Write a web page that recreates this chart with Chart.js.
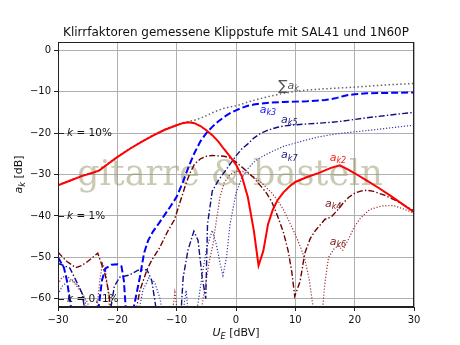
<!DOCTYPE html>
<html>
<head>
<meta charset="utf-8">
<script src="https://cdn.jsdelivr.net/npm/chart.js@4"></script>
<style>
  body { margin: 0; background: #fff; }
  #wrap { width: 460px; height: 345px; }
</style>
</head>
<body>
<div id="wrap"><canvas id="chart" width="460" height="345"></canvas></div>
<script>
// Klirrfaktoren a_k [dB] über Eingangspegel U_E [dBV], Paare [U_E, a_k]
const k2 = [[-30,-32.6],[-28,-31.5],[-26,-30.4],[-24,-29.5],[-23,-29],[-22,-27.9],[-20,-25.8],[-18,-23.9],[-16,-22.2],[-14,-20.6],[-12,-19.2],[-10,-18.1],[-9,-17.6],[-8,-17.4],[-7,-17.6],[-6,-18.3],[-5,-19.3],[-4,-20.5],[-3,-22],[-2,-23.9],[-1,-25.7],[0,-27.6],[1,-30.5],[2,-35.5],[3,-43.5],[3.8,-52],[4.6,-48.5],[5.4,-42],[6.2,-38.5],[7,-36.2],[8,-34.3],[9,-32.9],[10,-31.8],[12,-30.6],[14,-29.6],[16,-28.4],[17.5,-27.8],[19,-28.9],[20,-29.7],[22,-31.4],[24,-33.2],[26,-35.1],[28,-37.1],[30,-39.1]];
const k3 = [[-30,-50],[-29,-52.5],[-28.5,-55.6],[-27.6,-64],[-23.3,-64],[-22.6,-55.6],[-22,-52.7],[-21,-51.8],[-20,-51.7],[-19.3,-52.2],[-18.9,-55.6],[-18.5,-64],[-17.5,-64],[-16.2,-54.8],[-15.5,-49],[-14.8,-45.9],[-14,-43.8],[-13,-41.8],[-12,-39.7],[-11,-37.6],[-10,-35.4],[-9,-32],[-8,-28.2],[-7,-24.8],[-6,-22],[-5,-20],[-4,-18.5],[-3,-17.2],[-2,-16.1],[-1,-15.2],[0,-14.5],[1,-13.9],[2,-13.4],[3,-13.1],[4,-12.9],[6,-12.6],[8,-12.5],[10,-12.4],[12,-12.3],[14,-12.1],[15,-12],[16,-11.8],[17,-11.5],[18,-11.1],[19,-10.8],[20,-10.6],[22,-10.4],[25,-10.3],[30,-10.2]];
const k4 = [[-30,-48.8],[-28.5,-51],[-27,-52.5],[-26,-52],[-25,-51],[-23.3,-49],[-22.1,-53.9],[-21.5,-58],[-21,-64],[-17,-64],[-16.2,-58],[-15,-53],[-14.2,-50.7],[-13,-48],[-12.5,-46.6],[-11.5,-43.7],[-10.4,-41],[-9.5,-37],[-8.5,-32.5],[-7.8,-29.8],[-7,-27.5],[-6,-26.2],[-5,-25.6],[-4,-25.4],[-3,-25.5],[-2,-25.6],[-1,-26],[0,-27],[1,-28.2],[2,-29.5],[3,-30.8],[4,-32.5],[5,-34.2],[6,-36.5],[7,-40],[8,-44],[8.8,-48.5],[9.4,-53.5],[9.9,-59.4],[10.8,-55.8],[11.6,-49],[12.5,-45.5],[13.3,-43.7],[14,-42.5],[15,-40.8],[16,-40.3],[17,-38.8],[18,-37],[19,-35.5],[20,-34.5],[21,-34],[22,-33.8],[23,-34],[25,-35],[27,-36.3],[30,-38.8]];
const k5 = [[-30,-51.5],[-29,-52],[-28,-52.6],[-27,-55.5],[-26,-58.5],[-25.3,-64],[-21.3,-64],[-20.5,-57],[-19.6,-54.8],[-18,-54.3],[-16.5,-53.1],[-15,-53],[-14.2,-55.6],[-13.3,-64],[-9.3,-64],[-8.9,-54.8],[-8.1,-48.3],[-7.1,-43.7],[-6.4,-45.9],[-5.7,-54.8],[-5.1,-60],[-4.8,-42],[-4,-34],[-3,-31.5],[-2,-29.5],[-1,-27.5],[0,-25.5],[1,-23.8],[2,-22.6],[3,-21.2],[4,-20.2],[5,-19.5],[6,-19],[7,-18.6],[8,-18.3],[10,-18],[12,-17.8],[14,-17.6],[16,-17.4],[18,-17.1],[20,-16.7],[22,-16.3],[25,-15.8],[28,-15.3],[30,-15]];
const k6 = [[-30,-56.5],[-29.3,-54.8],[-28.5,-54.5],[-27.2,-56.3],[-26,-58.5],[-25,-61],[-24.5,-64],[-23.5,-64],[-23,-56],[-22.5,-51.5],[-22,-53],[-21.6,-58],[-21.2,-64],[-10.8,-64],[-10.3,-58.5],[-9.8,-64],[-6,-64],[-5.3,-58],[-4.5,-51],[-3.9,-47],[-3.3,-41],[-2.7,-35.5],[-2,-32],[-1,-30],[0,-29.3],[1,-29.2],[2,-29.7],[3,-30.6],[4,-31.6],[5,-33],[6,-34.4],[7,-36.2],[8,-38.5],[9,-41.5],[10,-44.5],[11,-48],[11.6,-50.5],[12.3,-55],[13,-62],[13.3,-64],[14.5,-64],[15,-56],[15.6,-50],[16.5,-48],[17.2,-47.2],[18,-48.3],[19,-45.5],[20,-42.5],[21,-40.5],[22.5,-38.5],[24.5,-37.6],[26.5,-37.5],[28,-38.2],[30,-39.3]];
const k7 = [[-30,-59],[-29.3,-57],[-28.5,-56],[-27.5,-55.5],[-26.5,-57],[-25.5,-60],[-25,-64],[-16.5,-64],[-15.7,-58],[-14.7,-55],[-13.7,-56],[-12.8,-60],[-12.3,-64],[-9,-64],[-8.4,-58],[-8,-64],[-6.7,-64],[-6,-57.2],[-5.5,-52.4],[-4.9,-47.6],[-4,-43.5],[-3.3,-47],[-2.6,-52],[-2.2,-54.4],[-1.6,-50],[-1,-42],[0,-34.5],[1,-30.8],[2,-28.6],[3,-27],[4,-26],[5,-25.2],[6,-24.5],[8,-23.2],[10,-22.4],[12,-21.6],[14,-20.9],[16,-20.4],[18,-20],[20,-19.7],[22,-19.4],[25,-18.9],[28,-18.4],[30,-18.1]];
const kSum = [[-30,-32.5],[-28,-31.4],[-26,-30.3],[-24,-29.4],[-23,-28.9],[-22,-27.8],[-20,-25.7],[-18,-23.8],[-16,-22.1],[-14,-20.5],[-12,-19.1],[-10,-18],[-9,-17.5],[-8,-17.2],[-7,-16.9],[-6,-16.4],[-5,-15.8],[-4,-15.1],[-3,-14.5],[-2,-14],[-1,-13.7],[0,-13.4],[1,-13],[2,-12.5],[3,-12.1],[4,-11.7],[6,-11],[8,-10.4],[10,-9.9],[12,-9.6],[15,-9.3],[20,-8.9],[25,-8.4],[30,-8]];

const xTicks = [-30, -20, -10, 0, 10, 20, 30];
const yTicks = [0, -10, -20, -30, -40, -50, -60];
// Referenzlinien k = 10 %, 1 %, 0,1 %
const kLevels = [-20, -40, -60];
const kTexts = ['10%', '1%', '0, 1%'];

const chartTitle = 'Klirrfaktoren gemessene Klippstufe mit SAL41 und 1N60P';
const watermark = 'gitarre & basteln';

const pts = arr => arr.map(p => ({x: p[0], y: p[1]}));
const minus = v => v < 0 ? '\u2212' + Math.abs(v) : String(v);

// Text mit Index (a_k3 usw.)
function subText(ctx, x, y, pieces) {
    let cx = x;
    for (const [t, font, dy] of pieces) {
        ctx.font = font;
        ctx.fillText(t, cx, y + dy);
        cx += ctx.measureText(t).width;
    }
    return cx;
}

const IT = 'italic 11px "DejaVu Sans"';
const SUB = 'italic 8px "DejaVu Sans"';
const curveLabels = [
    {x: 7.1, y: -8.7, color: '#555', sum: true, sub: 'k'},
    {x: 4.0, y: -14.5, color: '#1414ff', sub: 'k3'},
    {x: 7.6, y: -16.9, color: '#1a1a80', sub: 'k5'},
    {x: 7.6, y: -25.4, color: '#1a1a80', sub: 'k7'},
    {x: 15.8, y: -26.1, color: '#ff1a1a', sub: 'k2'},
    {x: 15.0, y: -37.2, color: '#7a1a1a', sub: 'k4'},
    {x: 15.8, y: -46.4, color: '#7a1a1a', sub: 'k6'}
];

const decor = {
    id: 'decor',
    beforeDatasetsDraw(chart) {
        const {ctx, chartArea: a} = chart;
        ctx.save();
        ctx.beginPath();
        ctx.rect(a.left, a.top, a.width, a.height);
        ctx.clip();
        ctx.font = '35px "DejaVu Serif"';
        ctx.fillStyle = 'rgba(150,150,105,0.5)';
        ctx.textBaseline = 'alphabetic';
        ctx.fillText(watermark, a.left + 19, a.top + 143);
        ctx.restore();
    },
    afterDatasetsDraw(chart) {
        const {ctx, chartArea: a, scales: {x, y}} = chart;
        ctx.save();
        // Rahmen
        ctx.strokeStyle = '#222';
        ctx.lineWidth = 1;
        ctx.strokeRect(a.left + 0.5, a.top + 0.5, a.width - 1, a.height - 1);

        // k-Markierungen am linken Rand
        ctx.textBaseline = 'middle';
        ctx.fillStyle = '#111';
        kLevels.forEach((lv, i) => {
            const py = Math.round(y.getPixelForValue(lv)) + 0.5;
            ctx.beginPath();
            ctx.moveTo(a.left, py);
            ctx.lineTo(a.left + 6, py);
            ctx.stroke();
            subText(ctx, a.left + 9, py, [
                ['k', 'italic 10.5px "DejaVu Sans"', 0],
                [' = ' + kTexts[i], '10.5px "DejaVu Sans"', 0]
            ]);
        });

        // Kurvenbeschriftungen
        curveLabels.forEach(l => {
            const px = x.getPixelForValue(l.x);
            const py = y.getPixelForValue(l.y);
            ctx.fillStyle = l.color;
            const parts = [];
            if (l.sum) parts.push(['\u2211', '14px "DejaVu Sans"', 0]);
            parts.push(['a', IT, 0], [l.sub, SUB, 3]);
            subText(ctx, px, py, parts);
        });
        ctx.restore();
    },
    afterDraw(chart) {
        const {ctx, chartArea: a} = chart;
        ctx.save();
        ctx.fillStyle = '#111';
        ctx.textBaseline = 'alphabetic';
        ctx.textAlign = 'center';
        ctx.font = '12px "DejaVu Sans"';
        ctx.fillText(chartTitle, (a.left + a.right) / 2, 36);

        // x-Achse: U_E [dBV]
        ctx.textAlign = 'left';
        ctx.font = '11px "DejaVu Sans"';
        const xl = [['U', 'italic 11px "DejaVu Sans"', 0], ['E', 'italic 8px "DejaVu Sans"', 2.5], [' [dBV]', '11px "DejaVu Sans"', 0]];
        let w = 0;
        xl.forEach(([t, f]) => { ctx.font = f; w += ctx.measureText(t).width; });
        subText(ctx, (a.left + a.right) / 2 - w / 2, 336, xl);

        // y-Achse: a_k [dB]
        ctx.translate(22, (a.top + a.bottom) / 2);
        ctx.rotate(-Math.PI / 2);
        const yl = [['a', 'italic 11px "DejaVu Sans"', 0], ['k', 'italic 8px "DejaVu Sans"', 2.5], [' [dB]', '11px "DejaVu Sans"', 0]];
        w = 0;
        yl.forEach(([t, f]) => { ctx.font = f; w += ctx.measureText(t).width; });
        subText(ctx, -w / 2, 0, yl);
        ctx.restore();
    }
};

function ds(data, color, width, dash) {
    return {
        data: pts(data),
        borderColor: color,
        borderWidth: width,
        borderDash: dash,
        borderCapStyle: 'butt',
        pointRadius: 0,
        tension: 0,
        fill: false
    };
}

new Chart(document.getElementById('chart'), {
    type: 'line',
    data: {
        datasets: [
            ds(k2, '#ff0000', 2, []),
            ds(k3, '#0000ff', 2, [7, 3]),
            ds(k5, '#101080', 1.4, [6, 2.2, 1.4, 2.2]),
            ds(k7, '#3a3aa8', 1.2, [1.2, 1.8]),
            ds(k4, '#700000', 1.4, [6, 2.2, 1.4, 2.2]),
            ds(k6, '#9a3030', 1.2, [1.2, 1.8]),
            ds(kSum, '#666666', 1.5, [1.5, 2.4])
        ]
    },
    options: {
        responsive: false,
        animation: false,
        layout: {padding: {top: 42, right: 46, left: 0, bottom: 0}},
        plugins: {legend: {display: false}, tooltip: {enabled: false}, title: {display: false}},
        scales: {
            x: {
                type: 'linear',
                min: -30,
                max: 30,
                afterBuildTicks: s => { s.ticks = xTicks.map(v => ({value: v})); },
                afterFit: s => { s.height = 38; },
                grid: {color: '#b0b0b0', lineWidth: 1, tickLength: 4, tickColor: '#222'},
                border: {color: '#222'},
                ticks: {callback: minus, color: '#111', padding: 3, maxRotation: 0, font: {family: 'DejaVu Sans', size: 10}}
            },
            y: {
                type: 'linear',
                min: -62,
                max: 2,
                afterBuildTicks: s => { s.ticks = yTicks.map(v => ({value: v})); },
                afterFit: s => { s.width = 58; },
                grid: {color: '#b0b0b0', lineWidth: 1, tickLength: 4, tickColor: '#222'},
                border: {color: '#222'},
                ticks: {callback: minus, color: '#111', padding: 3, font: {family: 'DejaVu Sans', size: 10}}
            }
        }
    },
    plugins: [decor]
});
</script>
</body>
</html>
